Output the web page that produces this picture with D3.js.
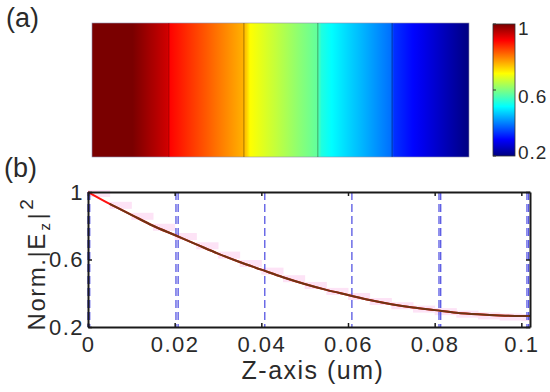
<!DOCTYPE html>
<html>
<head>
<meta charset="utf-8">
<script src="https://cdn.jsdelivr.net/npm/d3@7"></script>
<style>
  body { margin: 0; background: #fff; }
  text { font-family: Arial, "Liberation Sans", sans-serif; fill: #2a2a2a; }
</style>
</head>
<body>
<div id="viz"></div>
<script>
// curve in panel (b): position (um) and normalised |Ez|^2
var zPos = [0, 0.005, 0.010, 0.015, 0.020, 0.025, 0.030, 0.035, 0.040, 0.045, 0.050,
            0.055, 0.060, 0.065, 0.070, 0.075, 0.080, 0.085, 0.090, 0.095, 0.100, 0.102];
var ezVal = [1.0, 0.93, 0.865, 0.80, 0.745, 0.69, 0.635, 0.585, 0.54, 0.495, 0.455,
             0.42, 0.39, 0.36, 0.335, 0.315, 0.30, 0.285, 0.275, 0.268, 0.265, 0.265];

// layer boundaries (dashed lines)
var boundaries = [0, 0.0004, 0.0203, 0.0208, 0.0408, 0.0609, 0.0810, 0.0814, 0.1013, 0.1017];
var dividers = [0.0208, 0.0411, 0.0611, 0.0812];

// heat map in panel (a): sampled position and value
var mapPos = [0, 0.011, 0.0204, 0.0209, 0.0410, 0.0419, 0.0428, 0.0610, 0.0621, 0.0648, 0.0808, 0.0818, 0.102];
var mapVal = [1.0, 1.0, 0.936, 0.9, 0.76, 0.736, 0.70, 0.576, 0.524, 0.5, 0.388, 0.338, 0.2];

var xTicks = [0, 0.02, 0.04, 0.06, 0.08, 0.1];
var yTicks = [0.2, 0.6, 1];
var cbTicks = [0.2, 0.6, 1];

var width = 550, height = 392;
var svg = d3.select("#viz").append("svg").attr("width", width).attr("height", height);

// jet colour map
var jet = d3.scaleLinear()
  .domain([0.2, 0.3, 0.5, 0.7, 0.9, 1])
  .range(["#000080", "#0000ff", "#00ffff", "#ffff00", "#ff0000", "#7a0000"])
  .clamp(true);

// ---------- panel (a)
var mapX = d3.scaleLinear().domain([0, 0.102]).range([92, 469]);
var mapTop = 23, mapBottom = 157;

var defs = svg.append("defs");
var grad = defs.append("linearGradient").attr("id", "heat")
  .attr("gradientUnits", "userSpaceOnUse")
  .attr("x1", mapX(0)).attr("x2", mapX(0.102)).attr("y1", 0).attr("y2", 0);
var stops = [];
for (var i = 0; i < mapPos.length - 1; i++) {
  for (var k = 0; k < 8; k++) {
    var f = k / 8;
    stops.push({ z: mapPos[i] + f * (mapPos[i + 1] - mapPos[i]), v: mapVal[i] + f * (mapVal[i + 1] - mapVal[i]) });
  }
}
stops.push({ z: mapPos[mapPos.length - 1], v: mapVal[mapVal.length - 1] });
grad.selectAll("stop").data(stops).enter().append("stop")
  .attr("offset", function(d){ return d.z / 0.102; })
  .attr("stop-color", function(d){ return jet(d.v); });

svg.append("rect")
  .attr("x", mapX(0)).attr("y", mapTop)
  .attr("width", mapX(0.102) - mapX(0)).attr("height", mapBottom - mapTop)
  .style("fill", "url(#heat)")
  .style("stroke", "#9090b0").style("stroke-width", 0.6);

svg.selectAll(".divider").data(dividers).enter().append("line")
  .attr("class", "divider")
  .attr("x1", function(d){ return mapX(d); }).attr("x2", function(d){ return mapX(d); })
  .attr("y1", mapTop).attr("y2", mapBottom)
  .style("stroke", "#000").style("stroke-opacity", 0.35).style("stroke-width", 1);

// colour bar
var cbY = d3.scaleLinear().domain([0.2, 1]).range([156, 24]);
var cbGrad = defs.append("linearGradient").attr("id", "cb")
  .attr("x1", 0).attr("x2", 0).attr("y1", 1).attr("y2", 0);
cbGrad.selectAll("stop").data(jet.domain()).enter().append("stop")
  .attr("offset", function(d){ return (d - 0.2) / 0.8; })
  .attr("stop-color", function(d){ return jet(d); });
svg.append("rect")
  .attr("x", 493).attr("y", cbY(1)).attr("width", 22).attr("height", cbY(0.2) - cbY(1))
  .style("fill", "url(#cb)").style("stroke", "#333").style("stroke-width", 0.8);
svg.selectAll(".cbtick").data(cbTicks).enter().append("line")
  .attr("x1", 493).attr("x2", 496)
  .attr("y1", function(d){ return cbY(d); }).attr("y2", function(d){ return cbY(d); })
  .style("stroke", "#333");
svg.selectAll(".cblab").data(cbTicks).enter().append("text")
  .attr("x", 518)
  .attr("y", function(d){ return cbY(d); })
  .attr("dy", function(d){ return d === 1 ? "0.6em" : d === 0.2 ? "0.15em" : "0.7em"; })
  .style("font-size", "19px").style("letter-spacing", "1px")
  .text(function(d){ return d3.format("")(d); });

svg.append("text").attr("x", 6).attr("y", 27).style("font-size", "27px").text("(a)");
svg.append("text").attr("x", 4).attr("y", 177).style("font-size", "27px").text("(b)");

// ---------- panel (b)
var x = d3.scaleLinear().domain([0, 0.102]).range([88, 530]);
var y = d3.scaleLinear().domain([0.2, 1]).range([327, 192]);

// pink shading along the curve
var shade = svg.append("g");
shade.selectAll("rect").data(zPos.slice(0, -1)).enter().append("rect")
  .attr("x", function(d, i){ return x(zPos[i]); })
  .attr("width", function(d, i){ return x(zPos[i + 1]) - x(zPos[i]) + 0.5; })
  .attr("y", function(d, i){ return y(ezVal[i]) - 2; })
  .attr("height", 7)
  .style("fill", "#fde3f6");

// dashed layer boundaries
svg.selectAll(".bound").data(boundaries).enter().append("line")
  .attr("x1", function(d){ return x(d); }).attr("x2", function(d){ return x(d); })
  .attr("y1", y(1)).attr("y2", y(0.2))
  .style("stroke", "#4848e0").style("stroke-width", 1.2)
  .style("stroke-dasharray", "8,4");

var line = d3.line()
  .x(function(d, i){ return x(zPos[i]); })
  .y(function(d){ return y(d); })
  .curve(d3.curveMonotoneX);

svg.append("path").datum(ezVal).attr("d", line)
  .style("fill", "none").style("stroke", "#ff1010").style("stroke-width", 2);
var brown = d3.line()
  .x(function(d){ return x(d[0]); })
  .y(function(d){ return y(d[1]); })
  .curve(d3.curveMonotoneX);
var brownPts = zPos.map(function(z, i){ return [z, ezVal[i]]; }).filter(function(d){ return d[0] >= 0.005; });
svg.append("path").datum(brownPts).attr("d", brown)
  .style("fill", "none").style("stroke", "#6e3414").style("stroke-width", 2);

// axes
var xAxis = svg.append("g").attr("transform", "translate(0," + y(0.2) + ")")
  .call(d3.axisBottom(x).tickValues(xTicks).tickSizeInner(-4).tickSizeOuter(0).tickPadding(10)
    .tickFormat(function(d){ return d === 0 ? "0" : d3.format("")(+d.toFixed(2)); }));
var xAxisTop = svg.append("g").attr("transform", "translate(0," + y(1) + ")")
  .call(d3.axisTop(x).tickValues(xTicks).tickSizeInner(-4).tickSizeOuter(0).tickFormat(""));
var yAxis = svg.append("g").attr("transform", "translate(" + x(0) + ",0)")
  .call(d3.axisLeft(y).tickValues(yTicks).tickSizeInner(-4).tickSizeOuter(0).tickPadding(4)
    .tickFormat(d3.format("")));
var yAxisRight = svg.append("g").attr("transform", "translate(" + x(0.102) + ",0)")
  .call(d3.axisRight(y).tickValues(yTicks).tickSizeInner(-4).tickSizeOuter(0).tickFormat(""));

[xAxis, xAxisTop, yAxis, yAxisRight].forEach(function(a){
  a.select(".domain").style("stroke", "#1a1a1a").style("stroke-width", 2);
  a.selectAll(".tick line").style("stroke", "#1a1a1a").style("stroke-width", 1.5);
  a.selectAll("text").style("font-size", "22px").style("fill", "#2a2a2a")
    .style("letter-spacing", "1.5px")
    .style("font-family", "Arial, 'Liberation Sans', sans-serif");
});
xAxis.selectAll("text").attr("dy", "0.7em");

svg.append("text")
  .attr("x", 313).attr("y", 379)
  .attr("text-anchor", "middle").style("font-size", "25px").style("letter-spacing", "1.5px")
  .text("Z-axis (um)");

var yl = svg.append("text")
  .attr("transform", "translate(45,264) rotate(-90)")
  .attr("text-anchor", "middle").style("font-size", "24px").style("letter-spacing", "1.5px");
yl.append("tspan").text("Norm.|E");
yl.append("tspan").attr("dy", 5).attr("dx", 2).style("font-size", "15px").text("z");
yl.append("tspan").attr("dy", -5).attr("dx", 2).text("|");
yl.append("tspan").attr("dy", -12).attr("dx", 2).style("font-size", "19px").text("2");
</script>
</body>
</html>
